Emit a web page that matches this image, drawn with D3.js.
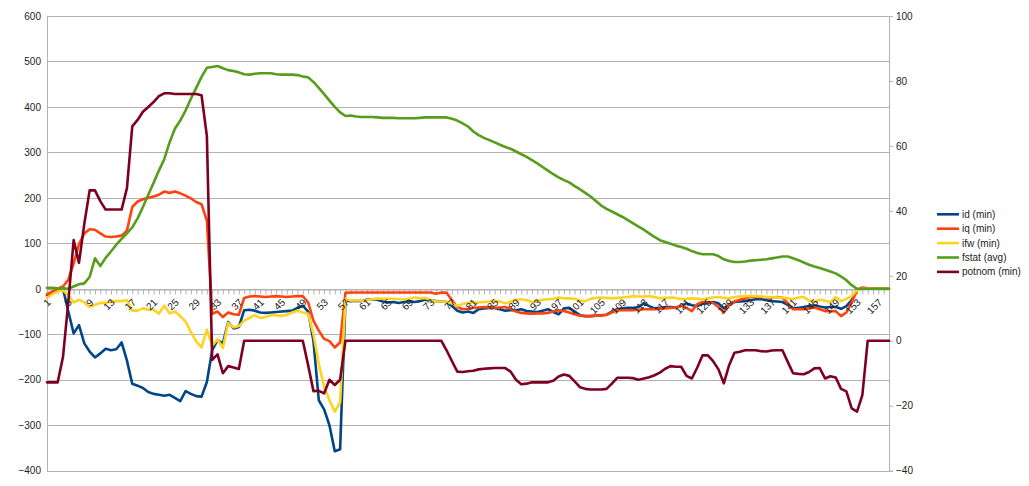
<!DOCTYPE html>
<html>
<head>
<meta charset="utf-8">
<script src="https://cdn.jsdelivr.net/npm/d3@7"></script>
<style>
  html, body { margin: 0; padding: 0; background: #ffffff; }
  svg { display: block; }
  text { font-family: "Liberation Sans", Arial, sans-serif; }
</style>
</head>
<body>
<svg id="chart" width="1029" height="486"></svg>
<script>
// ---------- data ----------
const categories = d3.range(1, 160);            // 1 .. 159
const xTickLabels = categories.filter(c => (c - 1) % 4 === 0); // 1,5,9,...,157
const leftTicks = [-400, -300, -200, -100, 0, 100, 200, 300, 400, 500, 600];
const rightTicks = [-40, -20, 0, 20, 40, 60, 80, 100];
const seriesNames = ["id (min)", "iq (min)", "ifw (min)", "fstat (avg)", "potnom (min)"];
const seriesColors = ["#004586", "#ff420e", "#ffd320", "#579d1c", "#7e0021"];

const idMin = [
  -14,-9,-4,0,-50,-98,-80,-120,-138,-151,
  -142,-132,-135,-133,-118,-158,-209,-213,-218,-227,
  -231,-233,-235,-233,-240,-247,-225,-231,-236,-237,
  -205,-135,-113,-120,-73,-87,-84,-47,-46,-48,
  -52,-53,-52,-51,-50,-49,-48,-42,-37,-50,
  -115,-245,-265,-300,-357,-353,-26,-27,-26,-27,
  -24,-23,-24,-28,-30,-29,-31,-29,-27,-29,
  -27,-24,-25,-27,-28,-29,-38,-48,-52,-50,
  -53,-45,-43,-42,-42,-45,-48,-47,-47,-45,
  -49,-50,-51,-48,-45,-51,-56,-43,-42,-50,
  -58,-60,-60,-59,-58,-57,-50,-45,-43,-42,
  -42,-40,-32,-38,-43,-42,-40,-40,-41,-38,
  -32,-36,-38,-33,-32,-29,-32,-43,-35,-29,
  -28,-27,-25,-23,-23,-25,-27,-28,-29,-35,
  -43,-42,-40,-38,-36,-39,-41,-40,-40,-44,
  -38,-25,-2,0,0,0,0,0,0
];
const iqMin = [
  -12,-6,0,5,20,56,98,122,131,130,
  122,115,114,115,117,128,180,192,197,200,
  203,207,214,211,214,210,205,199,191,186,
  150,-55,-50,-62,-52,-56,-57,-20,-17,-16,
  -17,-18,-17,-16,-17,-18,-17,-16,-16,-30,
  -70,-92,-110,-115,-129,-118,-9,-8,-8,-8,
  -8,-8,-8,-8,-8,-8,-8,-8,-8,-8,
  -8,-8,-8,-11,-8,-9,-25,-40,-45,-44,
  -42,-41,-40,-41,-42,-41,-40,-44,-50,-53,
  -54,-55,-54,-54,-53,-50,-47,-49,-52,-56,
  -59,-60,-60,-59,-59,-57,-52,-47,-47,-47,
  -47,-46,-45,-45,-45,-44,-43,-42,-41,-37,
  -42,-49,-34,-29,-29,-31,-40,-52,-36,-28,
  -24,-21,-18,-18,-18,-19,-19,-18,-19,-32,
  -45,-45,-45,-43,-41,-45,-49,-49,-49,-60,
  -52,-30,-3,3,1,0,0,0,0
];
const ifwMin = [
  -20,-12,-6,-3,-14,-30,-24,-30,-40,-35,
  -31,-31,-28,-27,-27,-25,-48,-48,-43,-46,
  -46,-55,-37,-54,-50,-60,-72,-95,-116,-129,
  -90,-125,-111,-130,-75,-85,-82,-70,-64,-58,
  -64,-62,-58,-58,-60,-57,-52,-48,-52,-55,
  -100,-165,-215,-245,-270,-250,-22,-26,-25,-26,
  -25,-23,-21,-22,-22,-22,-23,-23,-22,-19,
  -21,-20,-25,-28,-28,-29,-32,-38,-33,-31,
  -30,-30,-29,-28,-26,-28,-32,-28,-24,-23,
  -25,-29,-27,-24,-23,-22,-19,-21,-21,-22,
  -26,-27,-22,-20,-19,-20,-21,-20,-19,-18,
  -16,-17,-17,-16,-18,-21,-20,-19,-20,-23,
  -22,-21,-22,-23,-21,-19,-18,-20,-21,-18,
  -17,-16,-16,-16,-17,-18,-18,-19,-19,-21,
  -23,-19,-18,-26,-28,-24,-26,-30,-18,-27,
  -22,-16,-3,0,0,0,0,0,0
];
const fstatAvg = [
  2,2,1,1,0,5,10,12,26,67,
  50,68,82,97,110,122,135,155,180,207,
  233,260,285,322,352,370,392,418,442,466,
  486,488,490,485,481,479,476,472,471,473,
  474,474,474,472,471,471,471,470,467,465,
  455,442,428,414,400,388,380,381,379,378,
  378,378,377,376,376,376,375,375,375,375,
  376,377,377,377,377,377,374,370,364,357,
  346,338,332,327,322,317,312,308,302,296,
  290,283,276,268,260,252,245,239,234,226,
  219,211,203,193,183,176,170,164,158,151,
  144,137,130,122,114,107,103,99,95,92,
  88,83,79,76,76,76,72,65,61,59,
  59,60,62,63,64,65,67,69,71,71,
  67,63,58,53,49,46,42,38,34,27,
  19,8,0,0,0,0,0,0,0
];
// potnom is plotted against the secondary (right) axis
const potnomMin = [
  -12.8,-12.8,-12.8,-5,12,31,24,36,46.3,46.3,
  43,40.4,40.4,40.4,40.4,47,66,68,70.5,72,
  73.5,75.3,76.2,76.2,76,76,76,76,76,75.6,
  63,-5.9,-4.2,-10,-7.8,-8.2,-8.7,0,0,0,
  0,0,0,0,0,0,0,0,0,-7.5,
  -15.5,-15.4,-16.2,-12,-13.6,-12,0,0,0,0,
  0,0,0,0,0,0,0,0,0,0,
  0,0,0,0,0,-3,-6.3,-9.5,-9.6,-9.4,
  -9.2,-8.8,-8.6,-8.5,-8.4,-8.4,-8.4,-9.5,-12,-13.4,
  -13.2,-12.8,-12.8,-12.8,-12.8,-12.3,-11,-10.4,-10.8,-12.5,
  -14.3,-14.8,-15,-15,-15,-14.8,-13.2,-11.4,-11.4,-11.4,
  -11.5,-12,-11.6,-11.2,-10.6,-9.8,-8.6,-7.8,-8,-8,
  -10.8,-11.6,-8.3,-4.5,-4.5,-6.3,-8.8,-13.1,-7.5,-3.7,
  -3.4,-2.9,-2.9,-2.9,-3.2,-3.3,-3,-2.9,-2.9,-6.5,
  -10,-10.2,-10.3,-9.6,-8.5,-8.4,-11.6,-10.9,-11.3,-14.8,
  -15.6,-20.8,-21.8,-16.7,0,0,0,0,0
];

// ---------- layout ----------
const svg = d3.select("#chart");
const plot = { left: 47, right: 889, top: 16, bottom: 470.7 };

const x = d3.scaleLinear().domain([1, 159]).range([plot.left, plot.right]);
const yL = d3.scaleLinear().domain([-400, 600]).range([plot.bottom, plot.top]);
const yR = d3.scaleLinear().domain([-40, 100]).range([plot.bottom, plot.top]);

const gridColor = "#b3b3b3";
const textColor = "#222222";

// gridlines (primary axis)
svg.append("g").selectAll("line").data(leftTicks).join("line")
  .attr("x1", plot.left).attr("x2", plot.right)
  .attr("y1", d => Math.round(yL(d)) + 0.5).attr("y2", d => Math.round(yL(d)) + 0.5)
  .attr("stroke", gridColor).attr("stroke-width", 1);

// left axis
const gLeft = svg.append("g").attr("transform", `translate(${plot.left},0)`)
  .call(d3.axisLeft(yL).tickValues(leftTicks).tickSize(0).tickPadding(6));
gLeft.select(".domain").attr("stroke", gridColor);
gLeft.selectAll("text").attr("font-size", 10).attr("fill", textColor)
  .attr("font-family", "Liberation Sans, Arial, sans-serif");

// right axis
const gRight = svg.append("g").attr("transform", `translate(${plot.right},0)`)
  .call(d3.axisRight(yR).tickValues(rightTicks).tickSize(4).tickPadding(3));
gRight.select(".domain").attr("stroke", gridColor);
gRight.selectAll("line").attr("stroke", gridColor);
gRight.selectAll("text").attr("font-size", 10).attr("fill", textColor)
  .attr("font-family", "Liberation Sans, Arial, sans-serif");

// x axis along y = 0
const y0 = Math.round(yL(0)) + 0.5;
const gX = svg.append("g").attr("transform", `translate(0,${y0})`)
  .call(d3.axisBottom(x).tickValues(categories).tickSize(5).tickFormat(""));
gX.select(".domain").attr("stroke", gridColor);
gX.selectAll("line").attr("stroke", gridColor);

// series
const series = [
  { name: seriesNames[0], values: idMin, y: yL, color: seriesColors[0] },
  { name: seriesNames[1], values: iqMin, y: yL, color: seriesColors[1] },
  { name: seriesNames[2], values: ifwMin, y: yL, color: seriesColors[2] },
  { name: seriesNames[3], values: fstatAvg, y: yL, color: seriesColors[3] },
  { name: seriesNames[4], values: potnomMin, y: yR, color: seriesColors[4] }
];
const gLines = svg.append("g");
series.forEach(s => {
  const line = d3.line().x((d, i) => x(categories[i])).y(d => s.y(d));
  gLines.append("path").datum(s.values)
    .attr("d", line).attr("fill", "none")
    .attr("stroke", s.color).attr("stroke-width", 2.6)
    .attr("stroke-linejoin", "round").attr("stroke-linecap", "round");
});

// rotated category labels
svg.append("g").selectAll("text").data(xTickLabels).join("text")
  .attr("transform", d => `translate(${x(d) + 2},${y0 + 11}) rotate(-45)`)
  .attr("text-anchor", "end")
  .attr("dominant-baseline", "central")
  .attr("font-size", 10).attr("fill", textColor)
  .text(d => d);

// legend
const legend = svg.append("g");
series.forEach((s, k) => {
  const ly = 214.3 + k * 14.4;
  legend.append("line").attr("x1", 937).attr("x2", 959).attr("y1", ly).attr("y2", ly)
    .attr("stroke", s.color).attr("stroke-width", 2.6);
  legend.append("text").attr("x", 962).attr("y", ly)
    .attr("dominant-baseline", "central").attr("font-size", 10).attr("fill", textColor)
    .text(s.name);
});
</script>
</body>
</html>
